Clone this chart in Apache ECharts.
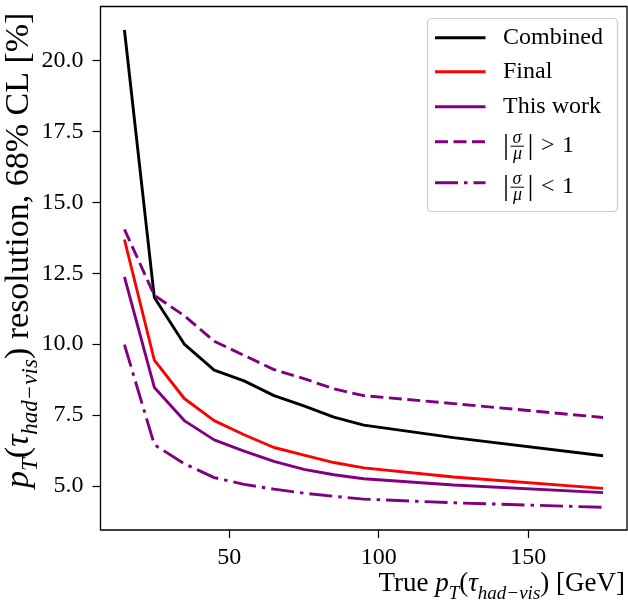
<!DOCTYPE html>
<html>
<head>
<meta charset="utf-8">
<script src="https://cdn.jsdelivr.net/npm/echarts@6/dist/echarts.min.js"></script>
<style>
html,body{margin:0;padding:0;background:#fff;}
#c{width:628px;height:601px;}
</style>
</head>
<body>
<div id="c"></div>
<script>
// ---- data ----
const ptBins = [15, 25, 35, 45, 55, 65, 75, 85, 95, 125, 175];
const combined = [21.08, 11.64, 10.0, 9.08, 8.70, 8.18, 7.82, 7.42, 7.14, 6.70, 6.06];
const finalRes = [13.69, 9.43, 8.08, 7.30, 6.80, 6.35, 6.08, 5.82, 5.63, 5.31, 4.91];
const thisWork = [12.37, 8.47, 7.30, 6.62, 6.22, 5.86, 5.58, 5.39, 5.25, 5.03, 4.76];
const sigmaGt1 = [14.05, 11.72, 11.00, 10.10, 9.60, 9.10, 8.78, 8.42, 8.18, 7.90, 7.41];
const sigmaLt1 = [9.98, 6.45, 5.78, 5.29, 5.05, 4.88, 4.74, 4.63, 4.53, 4.40, 4.24];
const xTicks = [50, 100, 150];
const yTicks = [5.0, 7.5, 10.0, 12.5, 15.0, 17.5, 20.0];
const seriesNames = ['Combined', 'Final', 'This work', '|σ/μ| > 1', '|σ/μ| < 1'];

const FONT = '"Liberation Serif", "DejaVu Serif", serif';
const PURPLE = '#800080';
const LW = 2.9;
const DASH = [13, 5.5];
const DASHDOT = [23, 6, 3.5, 6];

const chart = echarts.init(document.getElementById('c'), null, {renderer: 'canvas'});

function pairs(ys) { return ptBins.map((x, i) => [x, ys[i]]); }

function makeRich(main, sub, drop) {
  return {
    r: {fontFamily: FONT, fontSize: main, color: '#000', verticalAlign: 'bottom', padding: [0, 0, drop, 0]},
    i: {fontFamily: FONT, fontSize: main, fontStyle: 'italic', color: '#000', verticalAlign: 'bottom', padding: [0, 0, drop, 0]},
    s: {fontFamily: FONT, fontSize: sub, fontStyle: 'italic', color: '#000', verticalAlign: 'bottom', padding: [0, 0, 0, 0]}
  };
}

// legend drawn as graphic
const legendX = 427.5, legendY = 18.5, legendW = 190, legendH = 193;
const rowY = [37.7, 71.7, 106.7, 141.7, 182.7];
const lineStyles = [
  {stroke: '#000', lineDash: null},
  {stroke: '#ff0000', lineDash: null},
  {stroke: PURPLE, lineDash: null},
  {stroke: PURPLE, lineDash: DASH},
  {stroke: PURPLE, lineDash: DASHDOT}
];
const g = [];
g.push({type: 'rect', shape: {x: legendX, y: legendY, width: legendW, height: legendH, r: 4},
  style: {fill: 'rgba(255,255,255,0.8)', stroke: '#cccccc', lineWidth: 1.2}, z: 100});
rowY.forEach((y, k) => {
  g.push({type: 'line', shape: {x1: 435, y1: y, x2: 485.5, y2: y},
    style: {stroke: lineStyles[k].stroke, lineWidth: LW, lineDash: lineStyles[k].lineDash, lineCap: 'butt'}, z: 101});
  if (k < 3) {
    g.push({type: 'text', x: 503, y: y, style: {text: seriesNames[k], font: '24px ' + FONT, fill: '#000',
      textAlign: 'left', textVerticalAlign: 'middle'}, z: 101});
  } else {
    const cy = y + 4.5;
    const rel = k === 3 ? '>' : '<';
    g.push({type: 'text', x: 503, y: cy, style: {text: '|', font: '30px ' + FONT, fill: '#000', textAlign: 'left', textVerticalAlign: 'middle'}, z: 101});
    g.push({type: 'text', x: 517, y: cy - 8, style: {text: 'σ', font: 'italic 18px ' + FONT, fill: '#000', textAlign: 'center', textVerticalAlign: 'middle'}, z: 101});
    g.push({type: 'line', shape: {x1: 510.5, y1: cy, x2: 524, y2: cy}, style: {stroke: '#000', lineWidth: 1}, z: 101});
    g.push({type: 'text', x: 517.5, y: cy + 8.5, style: {text: 'μ', font: 'italic 18px ' + FONT, fill: '#000', textAlign: 'center', textVerticalAlign: 'middle'}, z: 101});
    g.push({type: 'text', x: 527.5, y: cy, style: {text: '|', font: '30px ' + FONT, fill: '#000', textAlign: 'left', textVerticalAlign: 'middle'}, z: 101});
    g.push({type: 'text', x: 541, y: cy, style: {text: rel, font: '24px ' + FONT, fill: '#000', textAlign: 'left', textVerticalAlign: 'middle'}, z: 101});
    g.push({type: 'text', x: 562, y: cy, style: {text: '1', font: '24px ' + FONT, fill: '#000', textAlign: 'left', textVerticalAlign: 'middle'}, z: 101});
  }
});

const option = {
  animation: false,
  backgroundColor: '#fff',
  grid: {left: 100.5, right: 1, top: 6.5, bottom: 71, show: true, borderColor: '#000', borderWidth: 1.3,
    backgroundColor: 'transparent', outerBoundsMode: 'none', containLabel: false},
  xAxis: {
    type: 'value', min: 7, max: 183,
    name: '{r|True }{i|p}{s|T}{r|(}{i|τ}{s|had−vis}{r|) [GeV]}',
    nameLocation: 'end', nameGap: 0, nameMoveOverlap: false,
    nameTextStyle: {align: 'right', verticalAlign: 'top', padding: [40, 2, 0, 0], rich: makeRich(27, 19, 6)},
    axisLine: {show: false},
    axisTick: {show: true, inside: false, length: 8, customValues: xTicks, lineStyle: {color: '#000', width: 1.2}},
    axisLabel: {customValues: xTicks, margin: 16, fontFamily: FONT, fontSize: 24, color: '#000',
      formatter: v => String(v)},
    splitLine: {show: false}
  },
  yAxis: {
    type: 'value', min: 3.44, max: 21.91,
    name: '{i|p}{s|T}{r|(}{i|τ}{s|had−vis}{r|) resolution, 68% CL [%]}',
    nameLocation: 'middle', nameRotate: 90, nameGap: 58, nameMoveOverlap: false,
    nameTextStyle: {padding: [0, 0, 0, 36], rich: makeRich(34, 23, 6)},
    axisLine: {show: false},
    axisTick: {show: true, inside: false, length: 8, customValues: yTicks, lineStyle: {color: '#000', width: 1.2}},
    axisLabel: {customValues: yTicks, margin: 17, fontFamily: FONT, fontSize: 24, color: '#000',
      formatter: v => v.toFixed(1)},
    splitLine: {show: false}
  },
  series: [
    {name: seriesNames[0], type: 'line', data: pairs(combined), showSymbol: false, symbol: 'none',
      lineStyle: {color: '#000', width: LW}, itemStyle: {color: '#000'}},
    {name: seriesNames[1], type: 'line', data: pairs(finalRes), showSymbol: false, symbol: 'none',
      lineStyle: {color: '#ff0000', width: LW}, itemStyle: {color: '#ff0000'}},
    {name: seriesNames[2], type: 'line', data: pairs(thisWork), showSymbol: false, symbol: 'none',
      lineStyle: {color: PURPLE, width: LW}, itemStyle: {color: PURPLE}},
    {name: seriesNames[3], type: 'line', data: pairs(sigmaGt1), showSymbol: false, symbol: 'none',
      lineStyle: {color: PURPLE, width: LW, type: DASH, cap: 'butt'}, itemStyle: {color: PURPLE}},
    {name: seriesNames[4], type: 'line', data: pairs(sigmaLt1), showSymbol: false, symbol: 'none',
      lineStyle: {color: PURPLE, width: LW, type: DASHDOT, cap: 'butt'}, itemStyle: {color: PURPLE}}
  ],
  graphic: g
};
chart.setOption(option);
</script>
</body>
</html>
